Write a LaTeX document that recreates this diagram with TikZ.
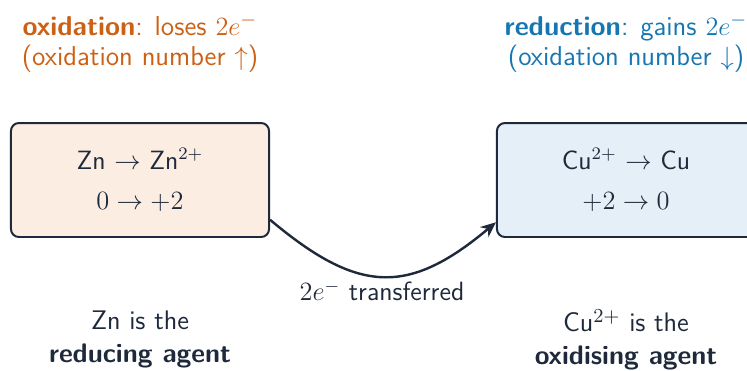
\documentclass[tikz,border=0pt]{standalone}
\usetikzlibrary{arrows.meta}
\definecolor{ink}{HTML}{1E293B}
\definecolor{oxc}{RGB}{204,96,20}
\definecolor{redc}{RGB}{22,118,178}
\definecolor{oxfill}{HTML}{FCEDE3}
\definecolor{redfill}{HTML}{E5EFF7}
\tikzset{
  halfbox/.style={draw=ink, line width=0.9pt, rounded corners=3.6pt,
    minimum width=117.3pt, minimum height=51.8pt, align=center,
    font=\fontsize{12}{14.5}\sffamily, text=ink, inner sep=0pt},
  toplabel/.style={align=center, font=\fontsize{12.4}{13.6}\sffamily, inner sep=0pt},
  botlabel/.style={align=center, font=\fontsize{12.2}{15}\sffamily, text=ink, inner sep=0pt},
  arrowlabel/.style={font=\fontsize{12}{14.5}\sffamily, text=ink, inner sep=0pt},
  transfer/.style={draw=ink, line width=1.1pt, -{Stealth[length=7pt,width=6pt]}},
}
\begin{document}
\begin{tikzpicture}[x={(0.4545pt,0)}, y={(0,-0.4545pt)}]
\useasboundingbox (0,0) rectangle (747,370);
\node[halfbox, fill=oxfill] (zn) at (140,180) {Zn $\rightarrow$ Zn$^{2+}$\\[4.1pt] $0 \rightarrow +2$};
\node[halfbox, fill=redfill] (cu) at (626,180) {Cu$^{2+}$ $\rightarrow$ Cu\\[4.1pt] $+2 \rightarrow 0$};
\node[toplabel, text=oxc] (oxl) at (140,43) {\textbf{oxidation}: loses $2e^{-}$\\ (oxidation number $\uparrow$)};
\node[toplabel, text=redc] (redl) at (626,43) {\textbf{reduction}: gains $2e^{-}$\\ (oxidation number $\downarrow$)};
\node[botlabel] (znl) at (140,339) {Zn is the\\ \textbf{reducing agent}};
\node[botlabel] (cul) at (626,340) {Cu$^{2+}$ is the\\ \textbf{oxidising agent}};
\draw[transfer] (zn.-17.5) to[out=-40, in=-140, looseness=1.3] (cu.198);
\node[arrowlabel] (tl) at (382,291) {$2e^{-}$ transferred};
\end{tikzpicture}
\end{document}
